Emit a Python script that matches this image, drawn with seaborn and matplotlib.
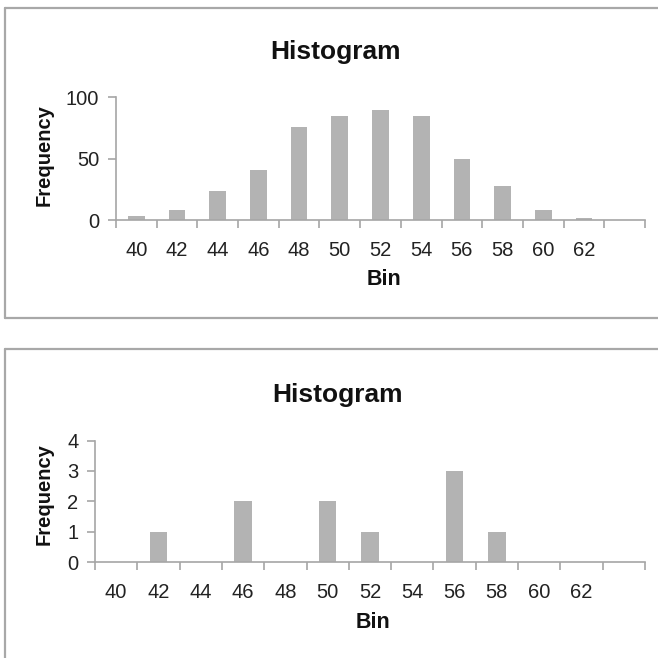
import numpy as np
import pandas as pd
import matplotlib
matplotlib.use('Agg')
import matplotlib.pyplot as plt
from matplotlib.lines import Line2D
import seaborn as sns

# Excel-style histogram output: bin labels plus the trailing "More" bin
bins = ['40', '42', '44', '46', '48', '50', '52', '54', '56', '58', '60', '62', 'More']
bin_labels = ['40', '42', '44', '46', '48', '50', '52', '54', '56', '58', '60', '62', '']
freq_top = [3, 8, 24, 41, 76, 85, 90, 85, 50, 28, 8, 2, 0]
freq_bottom = [0, 1, 0, 2, 0, 2, 1, 0, 3, 1, 0, 0, 0]
yticks_top = [0, 50, 100]
yticks_bottom = [0, 1, 2, 3, 4]

sns.set_theme(style='white')
plt.rcParams['font.family'] = ['Liberation Sans', 'DejaVu Sans']

BAR = '#b3b3b3'
AXC = '#a6a6a6'
BOX = '#a8a8a8'

W = H = 658
fig = plt.figure(figsize=(6.58, 6.58), dpi=100)


def px_axes(left, right, top, bottom):
    # pixel box (from top-left) -> figure fraction rect
    return fig.add_axes([left / W, 1 - bottom / H, (right - left) / W, (bottom - top) / H])


def draw_hist(ax, freq, yticks):
    df = pd.DataFrame({'Bin': bins, 'Frequency': freq})
    sns.barplot(data=df, x='Bin', y='Frequency', order=bins, color=BAR,
                width=0.41, saturation=1, ax=ax, linewidth=0)
    ax.set_xlim(-0.5, len(bins) - 0.5)
    ax.set_ylim(0, yticks[-1])
    ax.set_yticks(yticks)
    ax.set_xticks(range(len(bins)))
    ax.set_xticklabels(bin_labels)
    ax.set_xticks(np.arange(len(bins) + 1) - 0.5, minor=True)
    ax.tick_params(axis='x', which='major', length=0, pad=15, labelsize=14.5, colors='#222222')
    ax.tick_params(axis='x', which='minor', length=6, width=1.2, color=AXC, direction='out', bottom=True)
    ax.tick_params(axis='y', length=6, width=1.2, color=AXC, pad=6, labelsize=14.5,
                   labelcolor='#222222', left=True, direction='out')
    for s in ['top', 'right']:
        ax.spines[s].set_visible(False)
    for s in ['left', 'bottom']:
        ax.spines[s].set_color(AXC)
        ax.spines[s].set_linewidth(1.2)
    ax.set_xlabel('')
    ax.set_ylabel('')


ax1 = px_axes(116, 645, 97.5, 220)
draw_hist(ax1, freq_top, yticks_top)
ax2 = px_axes(95, 645, 440.5, 562)
draw_hist(ax2, freq_bottom, yticks_bottom)

# titles and axis labels placed like the Excel chart
txt = dict(fontweight='bold', color='#111111', ha='center', va='center')
fig.text(336 / W, 1 - 52 / H, 'Histogram', fontsize=19, **txt)
fig.text(384 / W, 1 - 280 / H, 'Bin', fontsize=15.5, **txt)
fig.text(44 / W, 1 - 155 / H, 'Frequency', fontsize=14.5, rotation=90, **txt)

fig.text(337 / W, 1 - 395 / H, 'Histogram', fontsize=19, **txt)
fig.text(373 / W, 1 - 623 / H, 'Bin', fontsize=15.5, **txt)
fig.text(44 / W, 1 - 494 / H, 'Frequency', fontsize=14.5, rotation=90, **txt)

# chart frames (right side / bottom run off the picture)
def frame_line(x0, y0, x1, y1):
    fig.add_artist(Line2D([x0 / W, x1 / W], [1 - y0 / H, 1 - y1 / H],
                          color=BOX, linewidth=1.6, transform=fig.transFigure))

frame_line(4.5, 7.5, 660, 7.5)
frame_line(4.5, 7.5, 4.5, 318)
frame_line(4.5, 318, 660, 318)
frame_line(4.5, 349, 660, 349)
frame_line(4.5, 349, 4.5, 660)

fig.savefig('out.png', dpi=100)
